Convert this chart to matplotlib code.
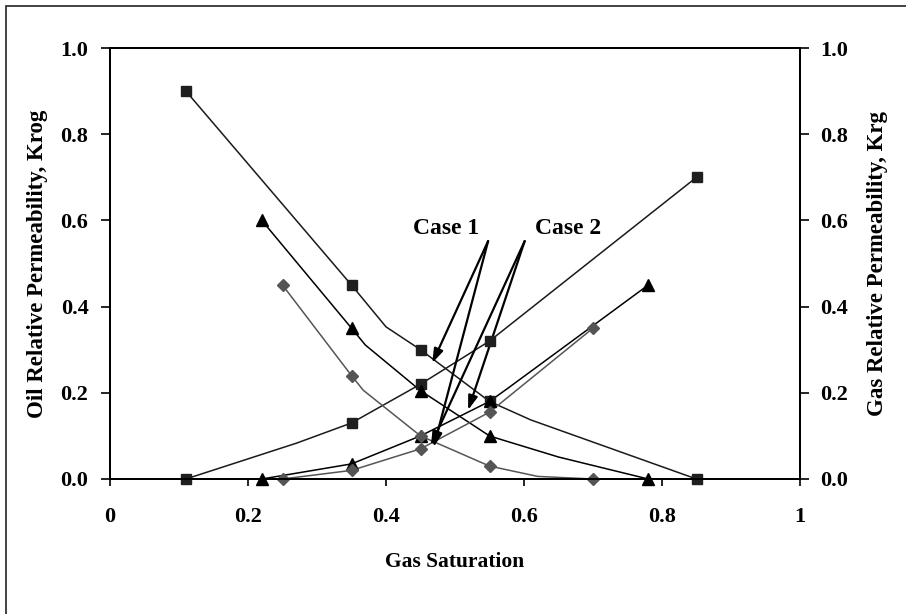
import matplotlib.pyplot as plt
from matplotlib.patches import Rectangle

# gas saturation / relative permeability
# markers (measured points)
sq_x = [0.11, 0.35, 0.45, 0.55, 0.85]
sq_krog = [0.90, 0.45, 0.30, 0.18, 0.0]
sq_krg = [0.0, 0.13, 0.22, 0.32, 0.70]

tri_x = [0.22, 0.35, 0.45, 0.55, 0.78]
tri_krog = [0.60, 0.35, 0.205, 0.10, 0.0]
tri_krg = [0.0, 0.035, 0.10, 0.18, 0.45]

dia_x = [0.25, 0.35, 0.45, 0.55, 0.70]
dia_krog = [0.45, 0.24, 0.10, 0.03, 0.0]
dia_krg = [0.0, 0.02, 0.07, 0.155, 0.35]

# connecting curves (have a few more vertices than markers)
sq_krog_lx = [0.11, 0.35, 0.40, 0.45, 0.55, 0.61, 0.85]
sq_krog_ly = [0.90, 0.45, 0.353, 0.30, 0.18, 0.137, 0.0]
sq_krg_lx = [0.11, 0.27, 0.35, 0.45, 0.55, 0.85]
sq_krg_ly = [0.0, 0.083, 0.13, 0.22, 0.32, 0.70]

tri_krog_lx = [0.22, 0.35, 0.37, 0.45, 0.55, 0.57, 0.65, 0.78]
tri_krog_ly = [0.60, 0.35, 0.311, 0.205, 0.10, 0.09, 0.051, 0.0]
tri_krg_lx = [0.22, 0.35, 0.45, 0.55, 0.577, 0.78]
tri_krg_ly = [0.0, 0.035, 0.10, 0.18, 0.211, 0.45]

dia_krog_lx = [0.25, 0.35, 0.367, 0.45, 0.55, 0.62, 0.70]
dia_krog_ly = [0.45, 0.24, 0.206, 0.10, 0.03, 0.006, 0.0]
dia_krg_lx = [0.25, 0.35, 0.45, 0.55, 0.70]
dia_krg_ly = [0.0, 0.02, 0.07, 0.155, 0.35]

# annotations
case_labels = ['Case 1', 'Case 2']
case_text_xy = [(0.487, 0.582), (0.664, 0.582)]
case_tail_xy = [(0.548, 0.552), (0.601, 0.552)]
case_heads = [[(0.467, 0.269), (0.469, 0.074)],
              [(0.519, 0.160), (0.465, 0.078)]]

plt.rcParams['font.family'] = ['Liberation Serif', 'DejaVu Serif']
plt.rcParams['font.weight'] = 'bold'

fig = plt.figure(figsize=(9.06, 6.14), dpi=100)
ax = fig.add_axes([110 / 906, 135 / 614, 690 / 906, 431 / 614])

lw = 1.1
ax.plot(sq_krog_lx, sq_krog_ly, color='#1a1a1a', lw=lw)
ax.plot(sq_krg_lx, sq_krg_ly, color='#1a1a1a', lw=lw)
ax.plot(tri_krog_lx, tri_krog_ly, color='black', lw=lw)
ax.plot(tri_krg_lx, tri_krg_ly, color='black', lw=lw)
ax.plot(dia_krog_lx, dia_krog_ly, color='#555555', lw=lw)
ax.plot(dia_krg_lx, dia_krg_ly, color='#555555', lw=lw)

ax.plot(sq_x, sq_krog, 's', color='#1f1f1f', ms=7.5, zorder=5, clip_on=False)
ax.plot(sq_x, sq_krg, 's', color='#1f1f1f', ms=7.5, zorder=5, clip_on=False)
ax.plot(tri_x, tri_krog, '^', color='black', ms=9, zorder=5, clip_on=False)
ax.plot(tri_x, tri_krg, '^', color='black', ms=9, zorder=5, clip_on=False)
ax.plot(dia_x, dia_krog, 'D', color='#555555', ms=6, zorder=5, clip_on=False)
ax.plot(dia_x, dia_krg, 'D', color='#555555', ms=6, zorder=5, clip_on=False)

for lab, txy, tail, heads in zip(case_labels, case_text_xy, case_tail_xy, case_heads):
    ax.text(txy[0], txy[1], lab, ha='center', va='center', fontsize=17,
            fontweight='bold')
    for h in heads:
        ax.annotate('', xy=h, xytext=tail,
                    arrowprops=dict(arrowstyle='-|>,head_length=0.6,head_width=0.2',
                                    color='black', lw=1.6,
                                    mutation_scale=14, shrinkA=0, shrinkB=0))

ax.set_xlim(0, 1)
ax.set_ylim(0, 1)
ax.set_xticks([0, 0.2, 0.4, 0.6, 0.8, 1])
ax.set_xticklabels(['0', '0.2', '0.4', '0.6', '0.8', '1'])
ax.set_yticks([0, 0.2, 0.4, 0.6, 0.8, 1.0])
ax.set_yticklabels(['0.0', '0.2', '0.4', '0.6', '0.8', '1.0'])
ax.tick_params(axis='y', labelsize=16, width=1.2, length=6.5, pad=9)
ax.tick_params(axis='x', labelsize=16, width=1.2, length=5, pad=15)
for s in ax.spines.values():
    s.set_linewidth(1.4)

ax.set_xlabel('Gas Saturation', fontsize=15.5, fontweight='bold', labelpad=18)
ax.set_ylabel('Oil Relative Permeability, Krog', fontsize=16.5,
              fontweight='bold', labelpad=9)

ax2 = ax.twinx()
ax2.set_ylim(0, 1)
ax2.set_yticks([0, 0.2, 0.4, 0.6, 0.8, 1.0])
ax2.set_yticklabels(['0.0', '0.2', '0.4', '0.6', '0.8', '1.0'])
ax2.tick_params(labelsize=16, width=1.2, length=6.5, pad=8)
ax2.set_ylabel('Gas Relative Permeability, Krg', fontsize=16.5,
               fontweight='bold', labelpad=14)
for s in ax2.spines.values():
    s.set_linewidth(1.4)

# outer frame (runs off the right and bottom edges)
fig.patches.append(Rectangle((6 / 906, -0.2), 1.2, 1.2 - 6 / 614,
                             transform=fig.transFigure, fill=False,
                             edgecolor='#222222', lw=1.2))

fig.savefig('out.png', dpi=100)
